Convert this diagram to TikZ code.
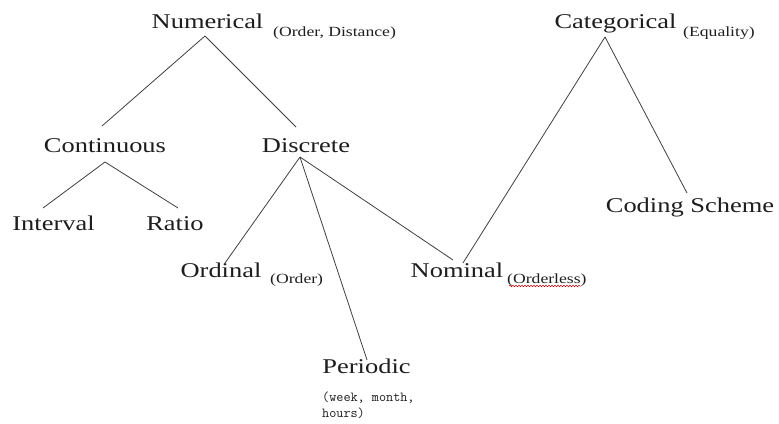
\documentclass[tikz,border=0pt]{standalone}
\usepackage{fontspec}
\setmainfont[FakeStretch=1.26]{Liberation Serif}
\usetikzlibrary{decorations.pathmorphing}
\definecolor{ink}{RGB}{30,30,30}
\begin{document}
\begin{tikzpicture}[x=1pt,y=-1pt,
  lbl/.style={inner sep=0pt,anchor=base,text=ink,font=\fontsize{21}{24}\selectfont},
  sub/.style={inner sep=0pt,anchor=base west,text=ink,font=\fontsize{14}{16}\selectfont},
  link/.style={draw=ink!85,line width=0.8pt}]
\useasboundingbox[fill=white] (0,0) rectangle (779,423);
% nodes
\node[lbl] (num) at (207.5,28) {Numerical};
\node[sub] (numsub) at (273,36) {(Order, Distance)};
\node[lbl] (cat) at (615.5,28) {Categorical};
\node[sub] (catsub) at (683,36) {(Equality)};
\node[lbl] (cont) at (105,152) {Continuous};
\node[lbl] (disc) at (306,152) {Discrete};
\node[lbl] (int) at (53.5,230) {Interval};
\node[lbl] (rat) at (175,230) {Ratio};
\node[lbl] (ord) at (221,277) {Ordinal};
\node[sub] (ordsub) at (270,283) {(Order)};
\node[lbl] (nom) at (457,277) {Nominal};
\node[sub] (nomsub) at (507,283) {(Orderless)};
\node[lbl] (per) at (366.5,373) {Periodic};
\node[inner sep=0pt,anchor=north west,align=left,text=ink,
      font=\ttfamily\fontsize{13.8}{16}\selectfont] (persub) at (322,392) {(week, month,\\hours)};
\node[lbl] (cod) at (690,212) {Coding Scheme};
% spell-check squiggle
\draw[red!80!black,line width=0.5pt,decorate,decoration={snake,amplitude=0.7pt,segment length=3pt}]
  ([xshift=2pt,yshift=-3pt]nomsub.base west) -- ([xshift=-6pt,yshift=-3pt]nomsub.base east);
% connectors
\draw[link] ([xshift=-2.5pt,yshift=-8pt]num.base) -- ([xshift=-3pt,yshift=26pt]cont.base);
\draw[link] ([xshift=-2.5pt,yshift=-8pt]num.base) -- ([xshift=-10pt,yshift=25pt]disc.base);
\draw[link] ([yshift=-10pt]cont.base) -- ([xshift=-10.5pt,yshift=22pt]int.base);
\draw[link] ([yshift=-10pt]cont.base) -- ([xshift=3pt,yshift=22pt]rat.base);
\draw[link] ([xshift=-6pt,yshift=-5pt]disc.base) -- ([xshift=4pt,yshift=14pt]ord.base);
\draw[link] ([xshift=-6pt,yshift=-5pt]disc.base) -- ([xshift=0.5pt,yshift=13pt]per.base);
\draw[link] ([xshift=-6pt,yshift=-5pt]disc.base) -- ([xshift=-4pt,yshift=17pt]nom.base);
\draw[link] ([xshift=-10.5pt,yshift=-9pt]cat.base) -- ([xshift=6pt,yshift=14pt]nom.base);
\draw[link] ([xshift=-10.5pt,yshift=-9pt]cat.base) -- ([xshift=-3pt,yshift=19pt]cod.base);
\end{tikzpicture}
\end{document}
